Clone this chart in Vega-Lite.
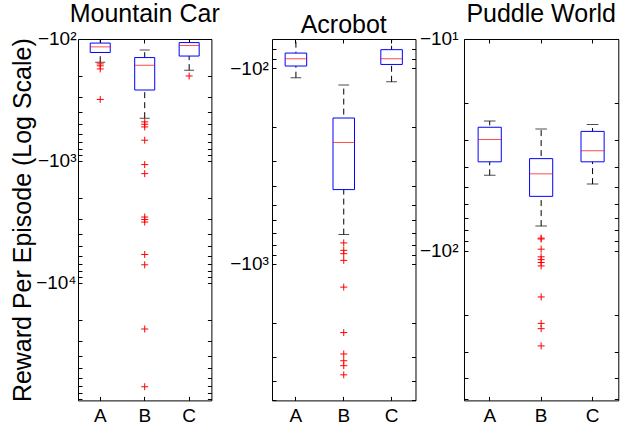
{
  "$schema": "https://vega.github.io/schema/vega-lite/v6.json",
  "padding": {"left": 10, "top": 1, "right": 0, "bottom": 0},
  "datasets": {
    "stats": [
      {"env": "MC", "alg": "A", "lo": -155, "q1": -129, "med": -116, "q3": -108, "hi": -101},
      {"env": "MC", "alg": "B", "lo": -446, "q1": -262, "med": -164, "q3": -142, "hi": -123},
      {"env": "MC", "alg": "C", "lo": -180, "q1": -138, "med": -113, "q3": -107, "hi": -100.5},
      {"env": "AC", "alg": "A", "lo": -112, "q1": -97.6, "med": -89.6, "q3": -83.8, "hi": -68},
      {"env": "AC", "alg": "B", "lo": -710, "q1": -418, "med": -240, "q3": -180, "hi": -122},
      {"env": "AC", "alg": "C", "lo": -117.5, "q1": -95.8, "med": -89.6, "q3": -80.5, "hi": -66},
      {"env": "PW", "alg": "A", "lo": -44, "q1": -38, "med": -29.8, "q3": -26.1, "hi": -24.4},
      {"env": "PW", "alg": "B", "lo": -76.4, "q1": -55.3, "med": -43.3, "q3": -36.7, "hi": -26.6},
      {"env": "PW", "alg": "C", "lo": -48.4, "q1": -38, "med": -33.7, "q3": -27.3, "hi": -25.3}
    ],
    "outliers": [
      {"env": "MC", "alg": "A", "v": -160}, {"env": "MC", "alg": "A", "v": -166}, {"env": "MC", "alg": "A", "v": -176}, {"env": "MC", "alg": "A", "v": -313},
      {"env": "MC", "alg": "B", "v": -478}, {"env": "MC", "alg": "B", "v": -500}, {"env": "MC", "alg": "B", "v": -526}, {"env": "MC", "alg": "B", "v": -676},
      {"env": "MC", "alg": "B", "v": -1071}, {"env": "MC", "alg": "B", "v": -1271}, {"env": "MC", "alg": "B", "v": -2886}, {"env": "MC", "alg": "B", "v": -3020},
      {"env": "MC", "alg": "B", "v": -3170}, {"env": "MC", "alg": "B", "v": -5850}, {"env": "MC", "alg": "B", "v": -7110}, {"env": "MC", "alg": "B", "v": -23900},
      {"env": "MC", "alg": "B", "v": -71100},
      {"env": "MC", "alg": "C", "v": -201},
      {"env": "AC", "alg": "B", "v": -783}, {"env": "AC", "alg": "B", "v": -855}, {"env": "AC", "alg": "B", "v": -889}, {"env": "AC", "alg": "B", "v": -962},
      {"env": "AC", "alg": "B", "v": -1318}, {"env": "AC", "alg": "B", "v": -2250}, {"env": "AC", "alg": "B", "v": -2895}, {"env": "AC", "alg": "B", "v": -3135},
      {"env": "AC", "alg": "B", "v": -3323}, {"env": "AC", "alg": "B", "v": -3700},
      {"env": "PW", "alg": "B", "v": -87.1}, {"env": "PW", "alg": "B", "v": -87.9}, {"env": "PW", "alg": "B", "v": -98.2}, {"env": "PW", "alg": "B", "v": -106.7},
      {"env": "PW", "alg": "B", "v": -110}, {"env": "PW", "alg": "B", "v": -113.5}, {"env": "PW", "alg": "B", "v": -117.8}, {"env": "PW", "alg": "B", "v": -165},
      {"env": "PW", "alg": "B", "v": -220}, {"env": "PW", "alg": "B", "v": -233}, {"env": "PW", "alg": "B", "v": -281}
    ]
  },
  "hconcat": [
    {
      "width": 133.4, "height": 361.4,
      "title": {"text": "Mountain Car", "fontSize": 25, "fontWeight": "normal", "frame": "group", "anchor": "middle", "baseline": "alphabetic", "offset": -17},
      "resolve": {"axis": {"x": "independent", "y": "independent"}},
      "layer": [
        {"data": {"name": "stats"}, "transform": [{"filter": "datum.env == 'MC'"}],
         "mark": {"type": "rule", "color": "black", "strokeDash": [6, 4], "strokeWidth": 1, "clip": true},
         "encoding": {
           "x": {"field": "alg", "type": "nominal", "scale": {"domain": ["A", "B", "C"], "paddingInner": 0, "paddingOuter": 0},
                 "axis": {"orient": "bottom", "title": null, "labelAngle": 0, "labelFontSize": 19, "tickSize": -4, "labelPadding": 10, "domain": false, "minExtent": 0}},
           "y": {"field": "lo", "type": "quantitative", "scale": {"type": "log", "domain": [-92000, -100], "nice": false},
                 "axis": {"orient": "left", "title": "Reward Per Episode (Log Scale)", "titleFontSize": 25, "titleFontWeight": "normal", "titlePadding": 0,
                          "labelFontSize": 19, "tickSize": -4, "labelPadding": 6, "domain": false, "grid": false, "labelOverlap": false, "labelFlush": false, "tickCount": 10, "minExtent": 0,
                          "labelExpr": "abs(datum.value) == 10 ? '−10¹' : abs(datum.value) == 100 ? '−10²' : abs(datum.value) == 1000 ? '−10³' : abs(datum.value) == 10000 ? '−10⁴' : ''"}},
           "y2": {"field": "hi"}
         }},
        {"data": {"name": "stats"}, "transform": [{"filter": "datum.env == 'MC'"}],
         "mark": {"type": "bar", "fill": "white", "stroke": "blue", "strokeWidth": 1, "width": {"band": 0.45}},
         "encoding": {
           "x": {"field": "alg", "type": "nominal", "axis": {"orient": "top", "title": null, "labels": false, "tickSize": -4, "domain": false, "minExtent": 0}},
           "y": {"field": "q1", "type": "quantitative", "axis": {"orient": "right", "title": null, "labels": false, "tickSize": -4, "domain": false, "grid": false, "tickCount": 10, "minExtent": 16}},
           "y2": {"field": "q3"}
         }},
        {"data": {"name": "stats"}, "transform": [{"filter": "datum.env == 'MC'"}],
         "mark": {"type": "tick", "color": "red", "size": 20, "thickness": 1},
         "encoding": {"x": {"field": "alg", "type": "nominal", "axis": null}, "y": {"field": "med", "type": "quantitative", "axis": null}}},
        {"data": {"name": "stats"}, "transform": [{"filter": "datum.env == 'MC'"}, {"fold": ["lo", "hi"], "as": ["k", "cap"]}],
         "mark": {"type": "tick", "color": "black", "size": 10, "thickness": 1, "clip": true},
         "encoding": {"x": {"field": "alg", "type": "nominal", "axis": null}, "y": {"field": "cap", "type": "quantitative", "axis": null}}},
        {"data": {"name": "outliers"}, "transform": [{"filter": "datum.env == 'MC'"}],
         "mark": {"type": "point", "shape": "M-1,0L1,0M0,-1L0,1", "filled": false, "color": "red", "size": 49, "strokeWidth": 1, "opacity": 1},
         "encoding": {"x": {"field": "alg", "type": "nominal", "axis": null}, "y": {"field": "v", "type": "quantitative", "axis": null}}}
      ]
    },
    {
      "width": 143.5, "height": 361.4,
      "title": {"text": "Acrobot", "fontSize": 25, "fontWeight": "normal", "frame": "group", "anchor": "middle", "baseline": "alphabetic", "offset": -20},
      "resolve": {"axis": {"x": "independent", "y": "independent"}},
      "layer": [
        {"data": {"name": "stats"}, "transform": [{"filter": "datum.env == 'AC'"}],
         "mark": {"type": "rule", "color": "black", "strokeDash": [6, 4], "strokeWidth": 1, "clip": true},
         "encoding": {
           "x": {"field": "alg", "type": "nominal", "scale": {"domain": ["A", "B", "C"], "paddingInner": 0, "paddingOuter": 0},
                 "axis": {"orient": "bottom", "title": null, "labelAngle": 0, "labelFontSize": 19, "tickSize": -4, "labelPadding": 10, "domain": false, "minExtent": 0}},
           "y": {"field": "lo", "type": "quantitative", "scale": {"type": "log", "domain": [-5000, -71], "nice": false},
                 "axis": {"orient": "left", "title": null,
                          "labelFontSize": 19, "tickSize": -4, "labelPadding": 7.7, "domain": false, "grid": false, "labelOverlap": false, "labelFlush": false, "tickCount": 10, "minExtent": 0,
                          "labelExpr": "abs(datum.value) == 10 ? '−10¹' : abs(datum.value) == 100 ? '−10²' : abs(datum.value) == 1000 ? '−10³' : abs(datum.value) == 10000 ? '−10⁴' : ''"}},
           "y2": {"field": "hi"}
         }},
        {"data": {"name": "stats"}, "transform": [{"filter": "datum.env == 'AC'"}],
         "mark": {"type": "bar", "fill": "white", "stroke": "blue", "strokeWidth": 1, "width": {"band": 0.45}},
         "encoding": {
           "x": {"field": "alg", "type": "nominal", "axis": {"orient": "top", "title": null, "labels": false, "tickSize": -4, "domain": false, "minExtent": 0}},
           "y": {"field": "q1", "type": "quantitative", "axis": {"orient": "right", "title": null, "labels": false, "tickSize": -4, "domain": false, "grid": false, "tickCount": 10, "minExtent": 0}},
           "y2": {"field": "q3"}
         }},
        {"data": {"name": "stats"}, "transform": [{"filter": "datum.env == 'AC'"}],
         "mark": {"type": "tick", "color": "red", "size": 21.5, "thickness": 1},
         "encoding": {"x": {"field": "alg", "type": "nominal", "axis": null}, "y": {"field": "med", "type": "quantitative", "axis": null}}},
        {"data": {"name": "stats"}, "transform": [{"filter": "datum.env == 'AC'"}, {"fold": ["lo", "hi"], "as": ["k", "cap"]}, {"filter": "datum.cap < -71"}],
         "mark": {"type": "tick", "color": "black", "size": 10.7, "thickness": 1, "clip": true},
         "encoding": {"x": {"field": "alg", "type": "nominal", "axis": null}, "y": {"field": "cap", "type": "quantitative", "axis": null}}},
        {"data": {"name": "outliers"}, "transform": [{"filter": "datum.env == 'AC'"}],
         "mark": {"type": "point", "shape": "M-1,0L1,0M0,-1L0,1", "filled": false, "color": "red", "size": 49, "strokeWidth": 1, "opacity": 1},
         "encoding": {"x": {"field": "alg", "type": "nominal", "axis": null}, "y": {"field": "v", "type": "quantitative", "axis": null}}}
      ]
    },
    {
      "width": 154.3, "height": 361.4,
      "title": {"text": "Puddle World", "fontSize": 25, "fontWeight": "normal", "frame": "group", "anchor": "middle", "baseline": "alphabetic", "offset": -17},
      "resolve": {"axis": {"x": "independent", "y": "independent"}},
      "layer": [
        {"data": {"name": "stats"}, "transform": [{"filter": "datum.env == 'PW'"}],
         "mark": {"type": "rule", "color": "black", "strokeDash": [6, 4], "strokeWidth": 1, "clip": true},
         "encoding": {
           "x": {"field": "alg", "type": "nominal", "scale": {"domain": ["A", "B", "C"], "paddingInner": 0, "paddingOuter": 0},
                 "axis": {"orient": "bottom", "title": null, "labelAngle": 0, "labelFontSize": 19, "tickSize": -4, "labelPadding": 10, "domain": false, "minExtent": 0}},
           "y": {"field": "lo", "type": "quantitative", "scale": {"type": "log", "domain": [-508, -10], "nice": false},
                 "axis": {"orient": "left", "title": null,
                          "labelFontSize": 19, "tickSize": -4, "labelPadding": 10, "domain": false, "grid": false, "labelOverlap": false, "labelFlush": false, "tickCount": 10, "minExtent": 0,
                          "labelExpr": "abs(datum.value) == 10 ? '−10¹' : abs(datum.value) == 100 ? '−10²' : abs(datum.value) == 1000 ? '−10³' : abs(datum.value) == 10000 ? '−10⁴' : ''"}},
           "y2": {"field": "hi"}
         }},
        {"data": {"name": "stats"}, "transform": [{"filter": "datum.env == 'PW'"}],
         "mark": {"type": "bar", "fill": "white", "stroke": "blue", "strokeWidth": 1, "width": {"band": 0.45}},
         "encoding": {
           "x": {"field": "alg", "type": "nominal", "axis": {"orient": "top", "title": null, "labels": false, "tickSize": -4, "domain": false, "minExtent": 0}},
           "y": {"field": "q1", "type": "quantitative", "axis": {"orient": "right", "title": null, "labels": false, "tickSize": -4, "domain": false, "grid": false, "tickCount": 10, "minExtent": 0}},
           "y2": {"field": "q3"}
         }},
        {"data": {"name": "stats"}, "transform": [{"filter": "datum.env == 'PW'"}],
         "mark": {"type": "tick", "color": "red", "size": 23.2, "thickness": 1},
         "encoding": {"x": {"field": "alg", "type": "nominal", "axis": null}, "y": {"field": "med", "type": "quantitative", "axis": null}}},
        {"data": {"name": "stats"}, "transform": [{"filter": "datum.env == 'PW'"}, {"fold": ["lo", "hi"], "as": ["k", "cap"]}],
         "mark": {"type": "tick", "color": "black", "size": 11.6, "thickness": 1, "clip": true},
         "encoding": {"x": {"field": "alg", "type": "nominal", "axis": null}, "y": {"field": "cap", "type": "quantitative", "axis": null}}},
        {"data": {"name": "outliers"}, "transform": [{"filter": "datum.env == 'PW'"}],
         "mark": {"type": "point", "shape": "M-1,0L1,0M0,-1L0,1", "filled": false, "color": "red", "size": 49, "strokeWidth": 1, "opacity": 1},
         "encoding": {"x": {"field": "alg", "type": "nominal", "axis": null}, "y": {"field": "v", "type": "quantitative", "axis": null}}}
      ]
    }
  ],
  "spacing": 1,
  "config": {
    "font": "Liberation Sans",
    "view": {"stroke": "black", "strokeWidth": 1},
    "axis": {"labelColor": "black", "tickColor": "black", "titleColor": "black", "labelFont": "Liberation Sans", "titleFont": "Liberation Sans"},
    "title": {"color": "black", "font": "Liberation Sans"}
  }
}
